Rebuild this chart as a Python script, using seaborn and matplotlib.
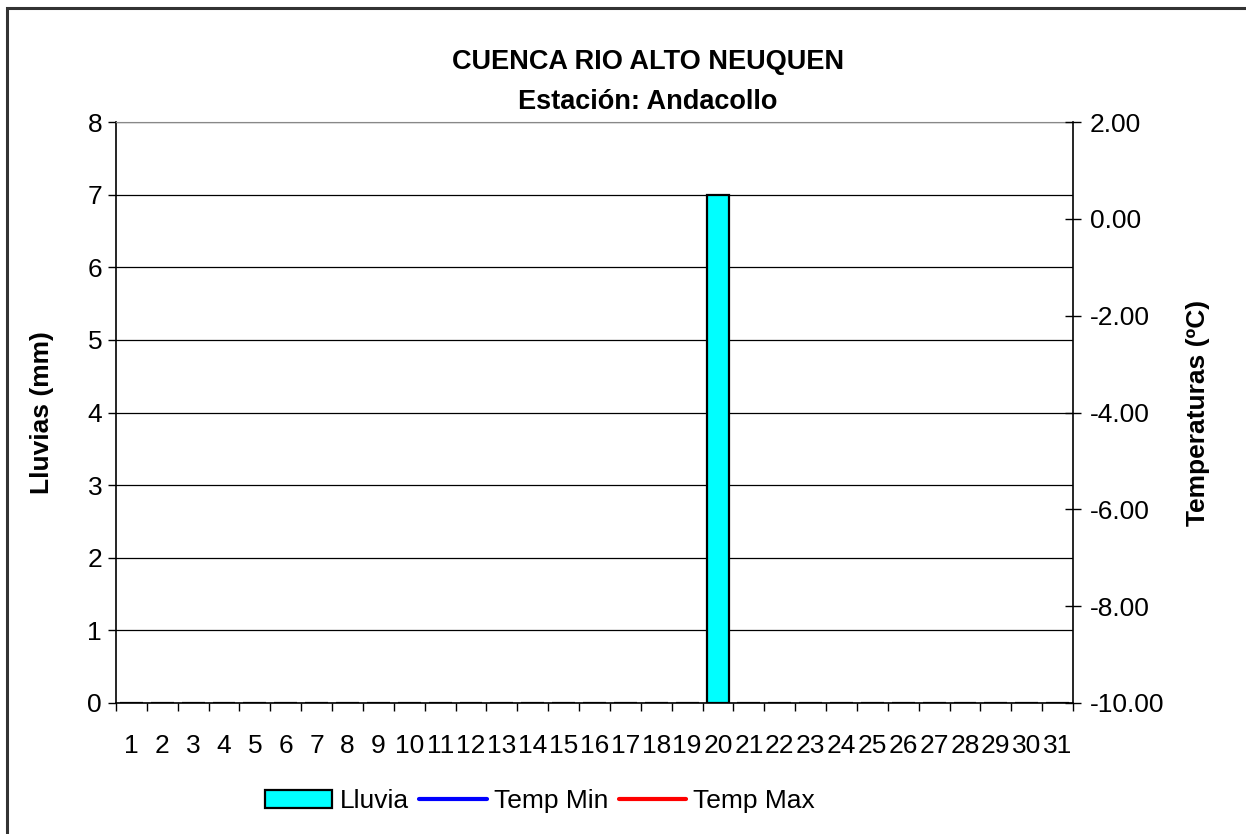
import numpy as np
import pandas as pd
import seaborn as sns
import matplotlib.pyplot as plt
from matplotlib.patches import Rectangle
from matplotlib.lines import Line2D
from matplotlib.patches import Patch

# datos
dias = list(range(1, 32))
lluvia = [0] * 19 + [7] + [0] * 11
temp_min = [np.nan] * 31   # sin datos
temp_max = [np.nan] * 31   # sin datos

df = pd.DataFrame({'dia': dias, 'lluvia': lluvia})

sns.set_style('white')
plt.rcParams['font.family'] = ['Liberation Sans', 'DejaVu Sans']
plt.rcParams['text.color'] = 'black'
plt.rcParams['axes.labelcolor'] = 'black'
plt.rcParams['xtick.color'] = 'black'
plt.rcParams['ytick.color'] = 'black'

FS = 19

fig = plt.figure(figsize=(12.46, 8.34), dpi=100)
ax = fig.add_axes([116 / 1246, 1 - 703 / 834, (1073 - 116) / 1246, (703 - 122) / 834])

# barras de lluvia
sns.barplot(data=df, x='dia', y='lluvia', color='#00FFFF', saturation=1,
            edgecolor='black', linewidth=1.6, width=0.74, ax=ax)

ax.set_xlim(-0.5, 30.5)
ax.set_ylim(0, 8)
ax.set_yticks(range(0, 9))
ax.yaxis.grid(True, color='black', linewidth=0.9)
ax.set_axisbelow(True)
ax.set_xticks(range(31))
ax.set_xticklabels([str(d) for d in dias])
ax.set_xticks(np.arange(-0.5, 31, 1), minor=True)
ax.tick_params(axis='x', which='major', length=0, labelsize=FS, pad=22)
ax.tick_params(axis='x', which='minor', length=6, width=1, color='black', direction='out', bottom=True)
ax.tick_params(axis='y', length=6, width=1, color='black', direction='out', left=True, labelsize=FS, pad=4)
ax.set_xlabel('')
ax.set_ylabel('Lluvias (mm)', fontsize=FS, fontweight='bold', labelpad=24)
for s in ['left', 'bottom']:
    ax.spines[s].set_color('black')
    ax.spines[s].set_linewidth(1.2)
ax.spines['top'].set_color('#888888')
ax.spines['right'].set_visible(False)

# temperaturas
ax2 = ax.twinx()
ax2.plot(range(31), temp_min, color='blue', linewidth=3)
ax2.plot(range(31), temp_max, color='red', linewidth=3)
ax2.set_ylim(-10, 2)
ax2.set_yticks(range(-10, 3, 2))
ax2.set_yticklabels([f'{v:.2f}' for v in range(-10, 3, 2)])
ax2.tick_params(axis='y', length=12, width=1, color='black', direction='inout', right=True, labelsize=FS, pad=6)
ax2.set_ylabel('Temperaturas (ºC)', fontsize=FS, fontweight='bold', labelpad=16)
ax2.spines['right'].set_color('black')
ax2.spines['right'].set_linewidth(1.2)
for s in ['left', 'bottom', 'top']:
    ax2.spines[s].set_visible(False)

fig.text(648 / 1246, 1 - 62 / 834, 'CUENCA RIO ALTO NEUQUEN', ha='center', va='center',
         fontsize=19.5, fontweight='bold')
fig.text(648 / 1246, 1 - 102 / 834, 'Estación: Andacollo', ha='center', va='center',
         fontsize=19.5, fontweight='bold')

handles = [Patch(facecolor='#00FFFF', edgecolor='black', linewidth=1.6),
           Line2D([0], [0], color='blue', linewidth=3),
           Line2D([0], [0], color='red', linewidth=3)]
fig.legend(handles, ['Lluvia', 'Temp Min', 'Temp Max'], loc='center',
           bbox_to_anchor=(540 / 1246, 1 - 801 / 834), ncol=3, frameon=False,
           fontsize=FS, handlelength=2.55, handletextpad=0.27, columnspacing=0.4)

# marco
fig.patches.append(Rectangle((7 / 1246, -0.1), 1.2, 1 - 8 / 834 + 0.1, transform=fig.transFigure,
                             fill=False, edgecolor='#333333', linewidth=2.2))

fig.savefig('out.png', dpi=100)
